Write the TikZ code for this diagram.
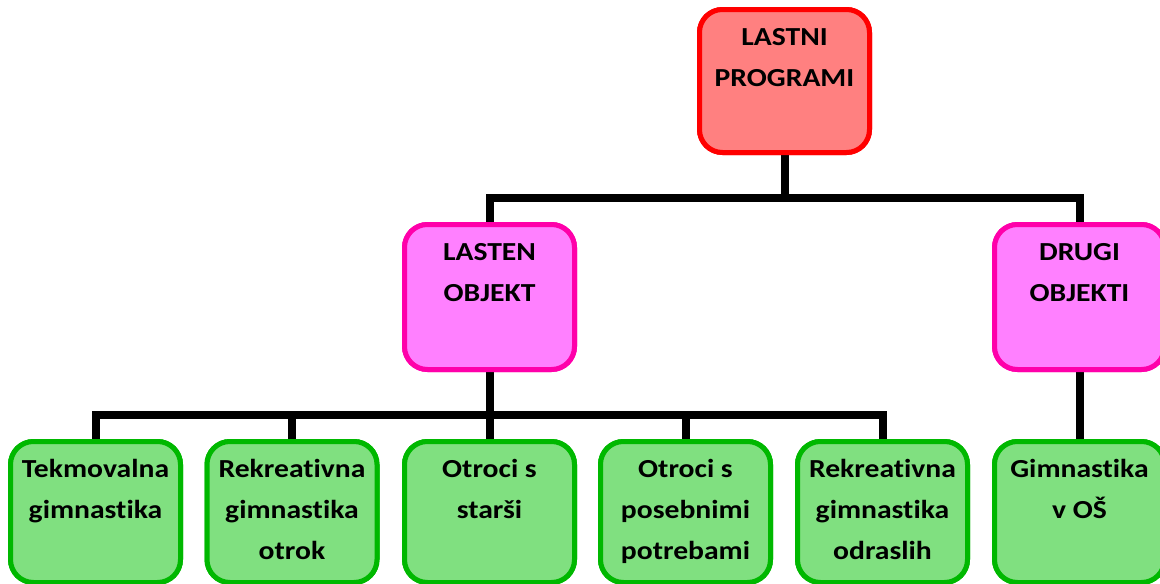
\documentclass[tikz,border=0pt]{standalone}
\usepackage{fontspec}
\setmainfont{Carlito}[FakeStretch=1.14, RawFeature=-liga]
\usetikzlibrary{calc}

\definecolor{redfill}{RGB}{255,128,128}
\definecolor{redline}{RGB}{255,0,0}
\definecolor{pinkfill}{RGB}{255,128,255}
\definecolor{pinkline}{RGB}{255,0,170}
\definecolor{greenfill}{RGB}{128,224,128}
\definecolor{greenline}{RGB}{0,184,0}

\tikzset{
  box/.style={draw, line width=5pt, rounded corners=23pt, inner sep=0pt,
    minimum width=170pt},
  redbox/.style={box, draw=redline, fill=redfill, minimum height=143pt},
  pinkbox/.style={box, draw=pinkline, fill=pinkfill, minimum height=145pt},
  greenbox/.style={box, draw=greenline, fill=greenfill, minimum height=141pt},
  label/.style={anchor=north, align=center, inner sep=0pt,
    font=\fontsize{26}{41}\selectfont\bfseries},
  conn/.style={draw=black, line width=8pt, line join=miter},
}
\newcommand{\lbl}[3]{\node[label] (#1) at ($(#2.north)+(0,-9.8pt)$) {\strut #3};}

\begin{document}
\begin{tikzpicture}[x=1pt,y=-1pt]
\useasboundingbox (0,0) rectangle (1160,584);

% bus lines
\coordinate (busA) at (0,198);
\coordinate (busB) at (0,415);

% boxes (placed first so connectors can refer to them; painted over later)
\path
  (784.5,81)   node[redbox]   (top) {}
  (489.5,297)  node[pinkbox]  (own) {}
  (1079.5,297) node[pinkbox]  (other) {}
  (95.5,512)   node[greenbox] (g1) {}
  (292,512)    node[greenbox] (g2) {}
  (489.5,512)  node[greenbox] (g3) {}
  (685.5,512)  node[greenbox] (g4) {}
  (882.5,512)  node[greenbox] (g5) {}
  (1079.5,512) node[greenbox] (g6) {};

% connectors
\draw[conn] (top.south) -- (top.south |- busA);
\draw[conn] (own.north) -- (own.north |- busA) -- (other.north |- busA) -- (other.north);
\draw[conn] (own.south) -- (g3.north);
\draw[conn] (g1.north) -- (g1.north |- busB) -- (g5.north |- busB) -- (g5.north);
\draw[conn] (g2.north) -- (g2.north |- busB);
\draw[conn] (g4.north) -- (g4.north |- busB);
\draw[conn] (other.south) -- (g6.north);

% boxes again on top of the connector ends
\path
  (784.5,81)   node[redbox]   {}
  (489.5,297)  node[pinkbox]  {}
  (1079.5,297) node[pinkbox]  {}
  (95.5,512)   node[greenbox] {}
  (292,512)    node[greenbox] {}
  (489.5,512)  node[greenbox] {}
  (685.5,512)  node[greenbox] {}
  (882.5,512)  node[greenbox] {}
  (1079.5,512) node[greenbox] {};

% texts
\lbl{ttop}{top}{LASTNI\\PROGRAMI}
\lbl{town}{own}{LASTEN\\OBJEKT}
\lbl{tother}{other}{DRUGI\\OBJEKTI}
\lbl{tg1}{g1}{Tekmovalna\\gimnastika}
\lbl{tg2}{g2}{Rekreativna\\gimnastika\\otrok}
\lbl{tg3}{g3}{Otroci s\\starši}
\lbl{tg4}{g4}{Otroci s\\posebnimi\\potrebami}
\lbl{tg5}{g5}{Rekreativna\\gimnastika\\odraslih}
\lbl{tg6}{g6}{Gimnastika\\v OŠ}
\end{tikzpicture}
\end{document}
